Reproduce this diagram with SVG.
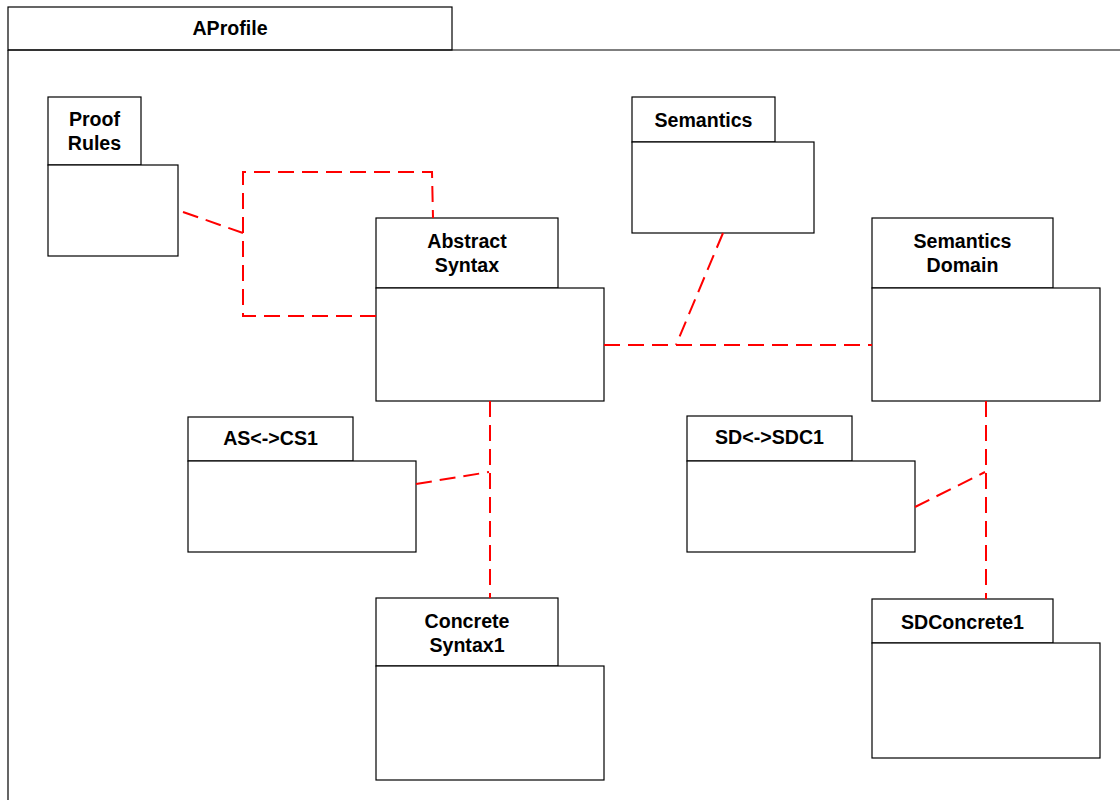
<svg xmlns="http://www.w3.org/2000/svg" width="1120" height="800" viewBox="0 0 1120 800">
  <style>
    .box { fill: #ffffff; stroke: #000000; stroke-width: 1.2; }
    .lbl { font-family: "Liberation Sans", Arial, sans-serif; font-weight: bold; font-size: 19.6px; fill: #000000; text-anchor: middle; }
    .dep { fill: none; stroke: #ff0000; stroke-width: 2; stroke-dasharray: 16 8; }
  </style>
  <rect width="1120" height="800" fill="#ffffff"/>

  <!-- enclosing profile package -->
  <g id="AProfile">
    <rect class="box" x="8" y="7" width="444" height="43"/>
    <path d="M8 50 H1120 M8 50 V800" fill="none" stroke="#000" stroke-width="1.2"/>
    <text class="lbl" x="230" y="35">AProfile</text>
  </g>

  <g id="ProofRules">
    <rect class="box" x="48" y="97" width="93" height="68"/>
    <rect class="box" x="48" y="165" width="130" height="91"/>
    <text class="lbl" x="94.5" y="126">Proof</text>
    <text class="lbl" x="94.5" y="150">Rules</text>
  </g>

  <g id="Semantics">
    <rect class="box" x="632" y="97" width="143" height="45"/>
    <rect class="box" x="632" y="142" width="182" height="91"/>
    <text class="lbl" x="703.5" y="127">Semantics</text>
  </g>

  <g id="AbstractSyntax">
    <rect class="box" x="376" y="218" width="182" height="70"/>
    <rect class="box" x="376" y="288" width="228" height="113"/>
    <text class="lbl" x="467" y="248">Abstract</text>
    <text class="lbl" x="467" y="272">Syntax</text>
  </g>

  <g id="SemanticsDomain">
    <rect class="box" x="872" y="218" width="181" height="70"/>
    <rect class="box" x="872" y="288" width="228" height="113"/>
    <text class="lbl" x="962.5" y="248">Semantics</text>
    <text class="lbl" x="962.5" y="272">Domain</text>
  </g>

  <g id="AS_CS1">
    <rect class="box" x="188" y="417" width="165" height="44"/>
    <rect class="box" x="188" y="461" width="228" height="91"/>
    <text class="lbl" x="270.5" y="445">AS&lt;-&gt;CS1</text>
  </g>

  <g id="SD_SDC1">
    <rect class="box" x="687" y="416" width="165" height="45"/>
    <rect class="box" x="687" y="461" width="228" height="91"/>
    <text class="lbl" x="769.5" y="444">SD&lt;-&gt;SDC1</text>
  </g>

  <g id="ConcreteSyntax1">
    <rect class="box" x="376" y="598" width="182" height="68"/>
    <rect class="box" x="376" y="666" width="228" height="114"/>
    <text class="lbl" x="467" y="628">Concrete</text>
    <text class="lbl" x="467" y="652">Syntax1</text>
  </g>

  <g id="SDConcrete1">
    <rect class="box" x="872" y="599" width="181" height="44"/>
    <rect class="box" x="872" y="643" width="228" height="115"/>
    <text class="lbl" x="962.5" y="629">SDConcrete1</text>
  </g>

  <!-- dependency connectors -->
  <g id="connectors">
    <path class="dep" d="M376 316 H243 V172 H432 L433 218"/>
    <path class="dep" d="M183 212 L243 233"/>
    <path class="dep" d="M604 345 H872"/>
    <path class="dep" d="M723 233 L676 345"/>
    <path class="dep" d="M490 401 V598"/>
    <path class="dep" d="M416 484 L489 472"/>
    <path class="dep" d="M986 401 V599"/>
    <path class="dep" d="M915 507 L985 472"/>
  </g>
</svg>
